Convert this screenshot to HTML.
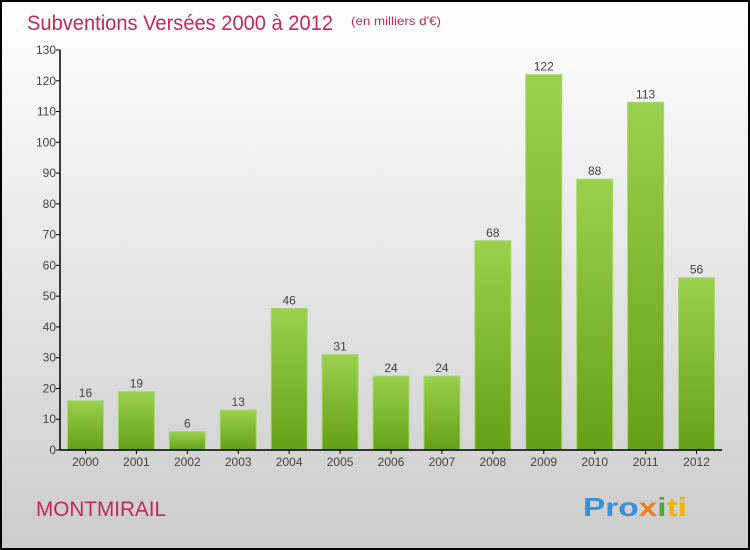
<!DOCTYPE html>
<html><head><meta charset="utf-8"><style>
body{margin:0;width:750px;height:550px;overflow:hidden}
svg{display:block;font-family:"Liberation Sans",sans-serif}
</style></head><body>
<svg width="750" height="550" id="c">
<defs>
<linearGradient id="bg" x1="0" y1="0" x2="0" y2="1"><stop offset="0" stop-color="#ffffff"/><stop offset="1" stop-color="#cccccc"/></linearGradient>
<linearGradient id="bar" x1="0" y1="0" x2="0" y2="1"><stop offset="0" stop-color="#9ad14e"/><stop offset="1" stop-color="#64a016"/></linearGradient>
</defs>
<rect x="1" y="1" width="748" height="548" fill="url(#bg)" stroke="#000" stroke-width="2"/>
<text x="27" y="30" font-size="21" fill="#c4285a" textLength="306" lengthAdjust="spacingAndGlyphs">Subventions Versées 2000 à 2012</text>
<text x="351" y="25" font-size="12" fill="#c4285a" textLength="90" lengthAdjust="spacingAndGlyphs">(en milliers d'€)</text>
<text x="36" y="516" font-size="21" fill="#c4285a" textLength="130" lengthAdjust="spacingAndGlyphs">MONTMIRAIL</text>
<text x="583" y="516" font-size="26" font-weight="bold" textLength="104" lengthAdjust="spacingAndGlyphs"><tspan fill="#3a8fd6">Pro</tspan><tspan fill="#f07f1a">x</tspan><tspan fill="#4aa83a">i</tspan><tspan fill="#f0b400">ti</tspan></text>
<g id="plot"></g>
</svg>
<script>
const categories=["2000","2001","2002","2003","2004","2005","2006","2007","2008","2009","2010","2011","2012"];
const values=[16,19,6,13,46,31,24,24,68,122,88,113,56];
const yTicks=[0,10,20,30,40,50,60,70,80,90,100,110,120,130];
const NS="http://www.w3.org/2000/svg";
const g=document.getElementById('plot');
const y0=450,yMax=130,ph=400,x0=60,x1=722;
const y=v=>y0-v/yMax*ph;
const step=(x1-x0)/categories.length;
const xc=i=>x0+step*(i+0.5);
function el(t,a){const e=document.createElementNS(NS,t);for(const k in a)e.setAttribute(k,a[k]);g.appendChild(e);return e;}
yTicks.forEach(t=>{
 const l=el('line',{x1:x0-4,x2:x0,y1:y(t),y2:y(t),stroke:'#000'});
 
 
 const tx=el('text',{x:x0-4,y:y(t)+4,'font-size':12,fill:'#444','text-anchor':'end'});
 tx.textContent=t;
 
 
});
values.forEach((v,i)=>{
 const w=36;
 const r=el('rect',{x:xc(i)-w/2,y:y(v),width:w,height:y0-y(v),fill:'url(#bar)',stroke:'#a8d870','stroke-width':1});
 
 
 const vl=el('text',{x:xc(i),y:y(v)-4,'font-size':12,fill:'#444','text-anchor':'middle'});
 vl.textContent=v;
 
 
 const tk=el('line',{x1:xc(i),x2:xc(i),y1:y0,y2:y0+4,stroke:'#000'});
 
 
 const cl=el('text',{x:xc(i),y:y0+16,'font-size':12,fill:'#444','text-anchor':'middle'});
 cl.textContent=categories[i];
 
 
});
const ya=el('line',{x1:x0,x2:x0,y1:y(yMax),y2:y0,stroke:'#000','stroke-width':1.5});


const xa=el('line',{x1:x0,x2:x1,y1:y0,y2:y0,stroke:'#000','stroke-width':1.5});


</script>
</body></html>
